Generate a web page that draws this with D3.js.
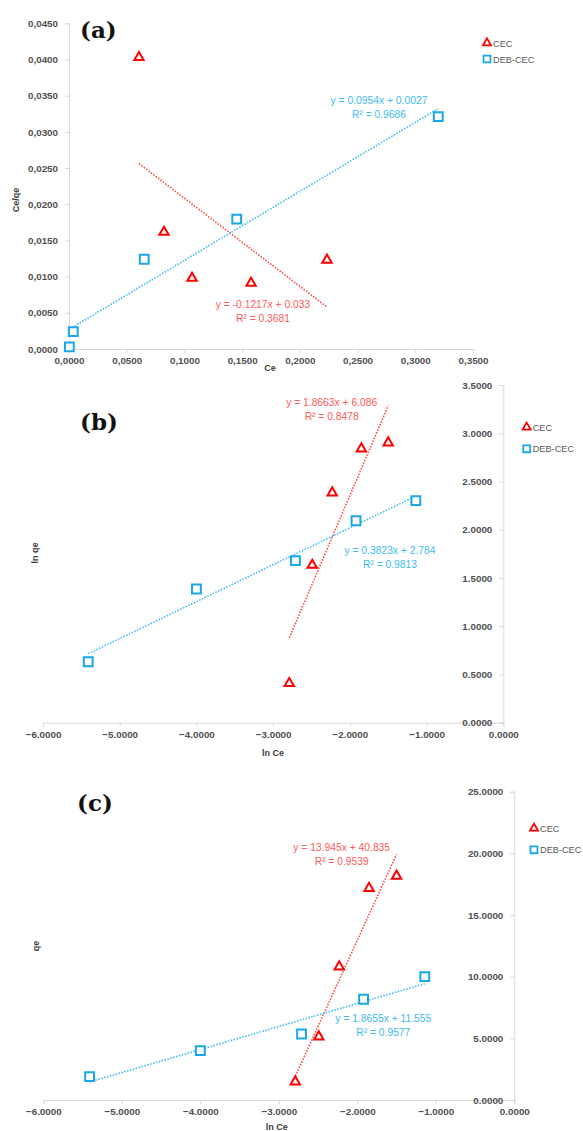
<!DOCTYPE html>
<html>
<head>
<meta charset="utf-8">
<script src="https://cdn.jsdelivr.net/npm/d3@7"></script>
<style>
  body { margin: 0; background: #fff; }
  svg { display: block; }
  .tick text { font-family: "Liberation Sans", Arial, sans-serif; font-weight: bold; font-size: 9.8px; fill: #505050; }
  .domain, .tick line { stroke: #d9d9d9; }
  .eq { font-family: "Liberation Sans", Arial, sans-serif; font-size: 10.3px; text-anchor: middle; }
  .ttl { font-family: "Liberation Sans", Arial, sans-serif; font-weight: bold; font-size: 9px; fill: #404040; text-anchor: middle; }
  .leg { font-family: "Liberation Sans", Arial, sans-serif; font-size: 9.2px; fill: #595959; }
  .tag { font-family: "DejaVu Serif", serif; font-weight: bold; font-size: 23px; fill: #111; }
</style>
</head>
<body>
<div id="chart"></div>
<script>
// series names
const seriesNames = ["CEC", "DEB-CEC"];

// (a) Ce vs Ce/qe
const cecA_x = [0.0606, 0.0823, 0.1066, 0.1577, 0.2235];
const cecA_y = [0.0403, 0.01615, 0.0098, 0.0091, 0.0123];
const debA_x = [0.0003, 0.0037, 0.0652, 0.1453, 0.3199];
const debA_y = [0.0003, 0.0024, 0.0124, 0.01795, 0.0321];
const fitA = [[-0.1217, 0.033], [0.0954, 0.0027]];
const eqA = [["y = -0.1217x + 0.033", "R\u00b2 = 0.3681"], ["y = 0.0954x + 0.0027", "R\u00b2 = 0.9686"]];

// (b) ln Ce vs ln qe
const cecB_x = [-2.79, -2.49, -2.23, -1.85, -1.50];
const cecB_y = [0.408, 1.634, 2.383, 2.839, 2.902];
const debB_x = [-5.41, -4.00, -2.71, -1.92, -1.14];
const debB_y = [0.632, 1.386, 1.679, 2.093, 2.301];
const fitB = [[1.8663, 6.086], [0.3823, 2.784]];
const eqB = [["y = 1.8663x + 6.086", "R\u00b2 = 0.8478"], ["y = 0.3823x + 2.784", "R\u00b2 = 0.9813"]];

// (c) ln Ce vs qe
const cecC_x = [-2.79, -2.49, -2.23, -1.85, -1.50];
const cecC_y = [1.48, 5.13, 10.81, 17.17, 18.17];
const debC_x = [-5.41, -4.00, -2.71, -1.92, -1.14];
const debC_y = [1.89, 4.0, 5.35, 8.17, 10.0];
const fitC = [[13.945, 40.835], [1.8655, 11.555]];
const eqC = [["y = 13.945x + 40.835", "R\u00b2 = 0.9539"], ["y = 1.8655x + 11.555", "R\u00b2 = 0.9577"]];

const markColor = ["#ff0000", "#1aa7ea"];
const lineColor = ["#ff4f4f", "#45c0f0"];
const textColor = ["#ff5a5a", "#3dbbf0"];

const W = 583, H = 1131;
const svg = d3.select("#chart").append("svg").attr("width", W).attr("height", H);

const panels = [
  { tag: "(a)", tagPos: [80, 38], sx: [69, 473], sy: [349, 23.3], xd: [0, 0.35], yd: [0, 0.045],
    xs: 0.05, ys: 0.005, fmt: v => d3.format(".4f")(v).replace(".", ","), yAt: 0,
    xTitle: "Ce", xTitlePos: [270, 371], yTitle: "Ce/qe", yTitlePos: [19, 200],
    sets: [[cecA_x, cecA_y], [debA_x, debA_y]], fit: fitA, eq: eqA,
    eqPos: [[263, 308], [379, 104]], leg: [487, 43] },
  { tag: "(b)", tagPos: [80, 430], sx: [43, 503.3], sy: [722.7, 385], xd: [-6, 0], yd: [0, 3.5],
    xs: 1, ys: 0.5, fmt: d3.format(".4f"), yAt: 0,
    xTitle: "ln Ce", xTitlePos: [273, 756], yTitle: "ln qe", yTitlePos: [38, 553],
    sets: [[cecB_x, cecB_y], [debB_x, debB_y]], fit: fitB, eq: eqB,
    eqPos: [[331.7, 405.5], [390, 553.5]], leg: [526.7, 427.3] },
  { tag: "(c)", tagPos: [77, 811], sx: [43.3, 514.3], sy: [1100, 791.7], xd: [-6, 0], yd: [0, 25],
    xs: 1, ys: 5, fmt: d3.format(".4f"), yAt: 0,
    xTitle: "ln Ce", xTitlePos: [276.7, 1129.5], yTitle: "qe", yTitlePos: [39, 946],
    sets: [[cecC_x, cecC_y], [debC_x, debC_y]], fit: fitC, eq: eqC,
    eqPos: [[341.7, 851], [383.3, 1022]], leg: [534, 828.3] }
];

const tri = d3.symbol(d3.symbolTriangle, 38)();
const sq = d3.symbol(d3.symbolSquare, 78)();
const triSmall = d3.symbol(d3.symbolTriangle, 28)();
const sqSmall = d3.symbol(d3.symbolSquare, 48)();

panels.forEach(p => {
  const g = svg.append("g");
  const x = d3.scaleLinear().domain(p.xd).range(p.sx);
  const y = d3.scaleLinear().domain(p.yd).range(p.sy);
  const xt = d3.range(p.xd[0], p.xd[1] + p.xs / 2, p.xs);
  const yt = d3.range(p.yd[0], p.yd[1] + p.ys / 2, p.ys);

  g.append("g").attr("transform", `translate(0,${y(0)})`)
    .call(d3.axisBottom(x).tickValues(xt).tickFormat(p.fmt).tickSize(4).tickPadding(4));
  g.append("g").attr("transform", `translate(${x(p.yAt)},0)`)
    .call(d3.axisLeft(y).tickValues(yt).tickFormat(p.fmt).tickSize(4).tickPadding(7));
  g.selectAll(".domain").attr("stroke", "#d9d9d9");

  // trendlines over the data range of each series
  p.sets.forEach((s, i) => {
    const ext = d3.extent(s[0]);
    const [m, b] = p.fit[i];
    g.append("path")
      .attr("d", d3.line().x(d => x(d)).y(d => y(m * d + b))(ext))
      .attr("fill", "none").attr("stroke", lineColor[i])
      .attr("stroke-width", 1.6).attr("stroke-dasharray", "1.6 1.4");
  });

  // markers
  p.sets.forEach((s, i) => {
    g.selectAll(null).data(s[0].map((v, k) => [v, s[1][k]])).enter().append("path")
      .attr("d", i === 0 ? tri : sq)
      .attr("transform", d => `translate(${x(d[0])},${y(d[1])})`)
      .attr("fill", "#fff").attr("stroke", markColor[i]).attr("stroke-width", 2);
  });

  // equations
  p.eq.forEach((lines, i) => {
    lines.forEach((t, k) => {
      g.append("text").attr("class", "eq").attr("fill", textColor[i])
        .attr("x", p.eqPos[i][0]).attr("y", p.eqPos[i][1] + k * 14).text(t);
    });
  });

  // legend
  seriesNames.forEach((n, i) => {
    const ly = p.leg[1] + i * (p.tag === "(a)" ? 16 : 21.5);
    g.append("path").attr("d", i === 0 ? triSmall : sqSmall)
      .attr("transform", `translate(${p.leg[0]},${ly})`)
      .attr("fill", "#fff").attr("stroke", markColor[i]).attr("stroke-width", 1.8);
    g.append("text").attr("class", "leg").attr("x", p.leg[0] + 6).attr("y", ly + 3.5).text(n);
  });

  // titles
  g.append("text").attr("class", "ttl").attr("x", p.xTitlePos[0]).attr("y", p.xTitlePos[1]).text(p.xTitle);
  g.append("text").attr("class", "ttl")
    .attr("transform", `translate(${p.yTitlePos[0]},${p.yTitlePos[1]}) rotate(-90)`).text(p.yTitle);
  g.append("text").attr("class", "tag").attr("x", p.tagPos[0]).attr("y", p.tagPos[1]).text(p.tag);
});
</script>
</body>
</html>
